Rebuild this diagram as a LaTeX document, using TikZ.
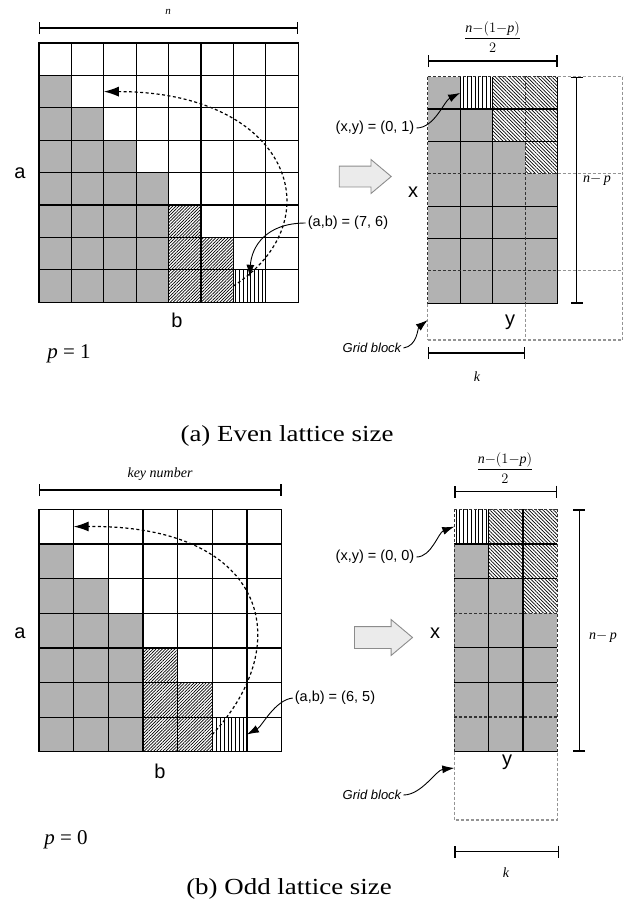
\documentclass[tikz,border=0pt]{standalone}
\usepackage{amsmath}
\usepackage{fontspec}
\setmainfont{Liberation Serif}
\setsansfont{Liberation Sans}
\newfontfamily\capfont[FakeStretch=1.17]{Liberation Serif}
\usetikzlibrary{positioning, arrows.meta, shapes.arrows, patterns.meta}

\begin{document}
\begin{tikzpicture}[
    x=1pt, y=-1pt,
    % Estilos de las celdas
    cell/.style={draw=black, line width=1.25pt, minimum width=#1, minimum height=#1,
        inner sep=0pt, outer sep=0pt},
    tile/.style 2 args={minimum width=#1, minimum height=#2, inner sep=0pt, outer sep=0pt},
    opencell/.style={fill=white},
    graycell/.style={fill=black!30},
    fwdhatch/.style={pattern={Lines[angle=45, distance=2.2pt, line width=0.7pt]}},
    backhatch/.style={pattern={Lines[angle=-45, distance=2.5pt, line width=0.7pt]}},
    vhatch/.style={pattern={Lines[angle=90, distance=3.8pt, line width=0.7pt]}},
    % Estilos de las lineas
    gridline/.style={line width=1.25pt},
    innerblock/.style={draw=black!80, line width=1.2pt, dash pattern=on 3pt off 2pt},
    blockline/.style={draw=black!42, line width=1.1pt, dash pattern=on 3pt off 2pt},
    dimline/.style={{Bar[width=12pt]}-{Bar[width=12pt]}, line width=1.4pt},
    dasharrow/.style={-{Latex[length=15pt, width=10pt]}, line width=1.2pt, dash pattern=on 3pt off 2.5pt},
    callout/.style={-{Latex[length=12pt, width=8pt]}, line width=0.9pt},
    shiftarrow/.style 2 args={single arrow, draw=black!45, fill=black!8, line width=0.9pt,
        minimum width=0pt, minimum height=#1, inner xsep=0pt, inner ysep=#2,
        single arrow head extend=6.5pt, single arrow tip angle=80},
    % Estilos de los textos
    axislabel/.style={font=\fontsize{20}{22}\selectfont\sffamily},
    pointlabel/.style={font=\fontsize{14.5}{17}\selectfont\sffamily, inner sep=2pt},
    blocklabel/.style={font=\fontsize{13}{15}\selectfont\sffamily\itshape, inner sep=2pt},
    mathlabel/.style={font=\fontsize{14}{16}\selectfont},
    plabel/.style={font=\fontsize{21}{23}\selectfont},
    caption/.style={font=\fontsize{23}{26}\selectfont\capfont}
]
\useasboundingbox (0,0) rectangle (634,911);

% -- (a) Even lattice size: lattice --
\foreach \r in {0,...,7}
  \foreach \c in {0,...,7}{
    \def\sty{opencell}
    \ifnum\c<\r \def\sty{fwdhatch}\ifnum\c<4 \def\sty{graycell}\fi\fi
    \ifnum\r=7 \ifnum\c=6 \def\sty{vhatch}\fi\fi
    \node[cell=32.4pt, \sty] (A-\r-\c) at ({39+32.4*(\c+.5)},{43+32.4*(\r+.5)}) {};
  }

% -- (a) Even lattice size: folded grid --
\foreach \r in {0,...,6}
  \foreach \c in {0,...,3}{
    \def\sty{graycell}
    \ifnum\c>\r \def\sty{backhatch}\fi
    \ifnum\r=0 \ifnum\c=1 \def\sty{vhatch}\fi\fi
    \node[tile={32.5pt}{32.4pt}, \sty] (AR-\r-\c) at ({427.7+32.5*(\c+.5)},{76.7+32.4*(\r+.5)}) {};
  }
\foreach \xx in {460.2,492.7,557.7} \draw[gridline] (\xx,76.7) -- (\xx,303.5);
\foreach \yy in {109.1,141.5,206.3,238.7,303.5} \draw[gridline] (427.7,\yy) -- (557.7,\yy);
\foreach \xx in {427.7,525.2} \draw[innerblock] (\xx,76.7) -- (\xx,303.5);
\foreach \yy in {76.7,173.6,270.5} \draw[innerblock] (427.7,\yy) -- (557.7,\yy);
\foreach \xx in {427.7,525.2} \draw[blockline] (\xx,303.5) -- (\xx,340);
\foreach \yy in {76.7,173.6,270.5} \draw[blockline] (557.7,\yy) -- (622.7,\yy);
\draw[blockline] (622.7,76.7) -- (622.7,340) -- (427.7,340);

% -- (b) Odd lattice size: lattice --
\foreach \r in {0,...,6}
  \foreach \c in {0,...,6}{
    \def\sty{opencell}
    \ifnum\c<\r \def\sty{fwdhatch}\ifnum\c<3 \def\sty{graycell}\fi\fi
    \ifnum\r=6 \ifnum\c=5 \def\sty{vhatch}\fi\fi
    \node[cell=34.65pt, \sty] (B-\r-\c) at ({39+34.65*(\c+.5)},{509.3+34.65*(\r+.5)}) {};
  }

% -- (b) Odd lattice size: folded grid --
\foreach \r in {0,...,6}
  \foreach \c in {0,...,2}{
    \def\sty{graycell}
    \ifnum\c<\r\else \def\sty{backhatch}\fi
    \ifnum\r=0 \ifnum\c=0 \def\sty{vhatch}\fi\fi
    \node[tile={34.3pt}{34.6pt}, \sty] (BR-\r-\c) at ({454.3+34.3*(\c+.5)},{509.3+34.6*(\r+.5)}) {};
  }
\foreach \xx in {488.6,522.9} \draw[gridline] (\xx,509.3) -- (\xx,751.5);
\foreach \yy in {543.9,578.5,647.7,682.3,751.5} \draw[gridline] (454.3,\yy) -- (557.2,\yy);
\foreach \xx in {454.3,557.2} \draw[innerblock] (\xx,509.3) -- (\xx,751.5);
\foreach \yy in {509.3,613.1,716.9} \draw[innerblock] (454.3,\yy) -- (557.2,\yy);
\draw[blockline] (454.3,751.5) -- (454.3,820) -- (557.2,820) -- (557.2,751.5);

% -- Etiquetas (a) --
\node[mathlabel, font=\fontsize{11}{13}\selectfont\itshape] (nlbl) at (168,12) {n};
\node[axislabel] (alblA) at (20,173) {a};
\node[axislabel] (blblA) at (177,320) {b};
\node[plabel] (pA) at (69,354) {\textit{p} = 1};
\node[pointlabel] (abA) at (348,223) {(a,b) = (7, 6)};
\node[shiftarrow={52pt}{10pt}] (shiftA) at (359,176.5) {};
\node[mathlabel] (fracA) at (492.7,37) {$\dfrac{\textit{n}{-}(1{-}\textit{p})}{2}$};
\node[mathlabel] (nplblA) at (597,180) {\textit{n}$-$\,\textit{p}};
\node[mathlabel] (klblA) at (477,377) {\textit{k}};
\node[axislabel] (xlblA) at (413,192) {x};
\node[axislabel] (ylblA) at (510,322) {y};
\node[pointlabel] (xyA) at (375,128) {(x,y) = (0, 1)};
\node[blocklabel] (gblblA) at (372,348) {Grid block};
\coordinate (gbA) at (427.7,320);
\node[caption] (capA) at (287,436) {(a) Even lattice size};

% -- Etiquetas (b) --
\node[font=\fontsize{14}{16}\selectfont\itshape] (keylbl) at (160,474) {key number};
\node[axislabel] (alblB) at (20,633) {a};
\node[axislabel] (blblB) at (160,771) {b};
\node[plabel] (pB) at (66,840) {\textit{p} = 0};
\node[pointlabel] (abB) at (335,698) {(a,b) = (6, 5)};
\node[shiftarrow={58pt}{10.5pt}, single arrow head extend=7pt] (shiftB) at (377,637.5) {};
\node[mathlabel] (fracB) at (505,468) {$\dfrac{\textit{n}{-}(1{-}\textit{p})}{2}$};
\node[mathlabel] (nplblB) at (603,637) {\textit{n}$-$\,\textit{p}};
\node[mathlabel] (klblB) at (506,873) {\textit{k}};
\node[axislabel] (xlblB) at (435,633) {x};
\node[axislabel] (ylblB) at (507,762) {y};
\node[pointlabel] (xyB) at (375,557) {(x,y) = (0, 0)};
\node[blocklabel] (gblblB) at (372,795) {Grid block};
\coordinate (gbB) at (454.3,768);
\node[caption] (capB) at (289,889) {(b) Odd lattice size};

% -- Cotas --
\draw[dimline] ([yshift=15pt]A-0-0.north west) -- ([yshift=15pt]A-0-7.north east);
\draw[dimline] ([yshift=15.7pt]AR-0-0.north west) -- ([yshift=15.7pt]AR-0-3.north east);
\draw[dimline] ([xshift=19pt]AR-0-3.north east) -- ([xshift=19pt]AR-6-3.south east);
\draw[dimline] ([yshift=-49.5pt]AR-6-0.south west) -- ([yshift=-49.5pt]AR-6-2.south east);
\draw[dimline] ([yshift=19.3pt]B-0-0.north west) -- ([yshift=19.3pt]B-0-6.north east);
\draw[dimline] ([yshift=17.6pt]BR-0-0.north west) -- ([yshift=17.6pt]BR-0-2.north east);
\draw[dimline] ([xshift=22pt]BR-0-2.north east) -- ([xshift=22pt]BR-6-2.south east);
\draw[dimline] ([yshift=-100pt]BR-6-0.south west) -- ([xshift=2pt, yshift=-100pt]BR-6-2.south east);

% -- Recorridos y llamadas --
\draw[dasharrow] (A-7-6.west) .. controls +(102,-66) and +(185,0) .. (A-1-2.west);
\draw[dasharrow] (B-6-5.west) .. controls +(87,-94) and +(190,-2) .. (B-0-1.west);
\draw[callout] (abA.west) .. controls +(-40,0) and +(2,-30) .. ([yshift=-7pt]A-7-6.north);
\draw[callout] (abB.west) .. controls +(-18,2) and +(15,-8) .. (B-6-5.east);
\draw[callout] (xyA.east) .. controls +(18,0) and +(-16,8) .. (AR-0-1.west);
\draw[callout] (xyB.east) .. controls +(15,0) and +(-16,6) .. (BR-0-0.west);
\draw[callout] (gblblA.east) .. controls +(14,-2) and +(-10,8) .. (gbA);
\draw[callout] (gblblB.east) .. controls +(18,0) and +(-18,2) .. (gbB);

\end{tikzpicture}
\end{document}
